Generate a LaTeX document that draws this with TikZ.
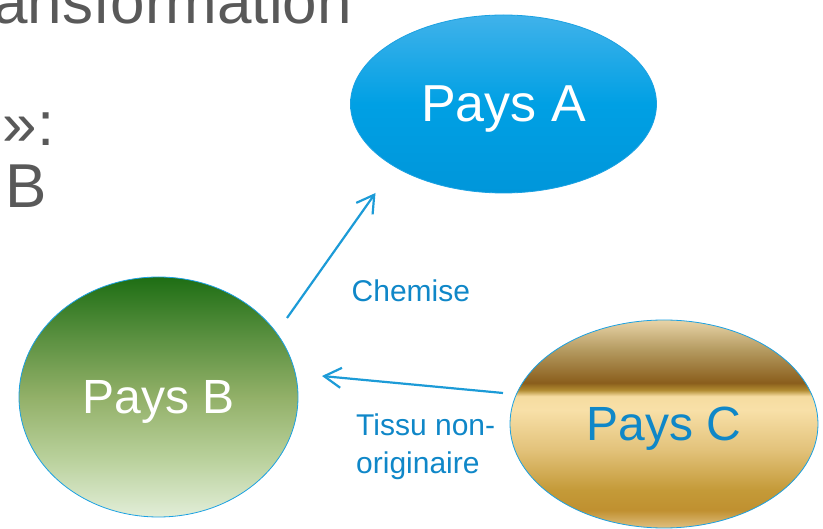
\documentclass[tikz,border=0pt]{standalone}
\usepackage{fontspec}
\setmainfont{Liberation Sans}
\usetikzlibrary{shapes.geometric,arrows.meta}
\definecolor{txtgrey}{HTML}{595959}
\definecolor{arrowblue}{HTML}{1C9BD7}
\definecolor{labelblue}{HTML}{0F87C8}
\definecolor{edgeblue}{HTML}{1BA1E2}
% gold
\definecolor{gA}{HTML}{E0C080}
\definecolor{gB}{HTML}{C09030}
\definecolor{gC}{HTML}{C49A38}
\definecolor{gD}{HTML}{E2C27A}
\definecolor{gE}{HTML}{F8E0A8}
\definecolor{gF}{HTML}{F5DCA0}
\definecolor{gG}{HTML}{B08A30}
\definecolor{gH}{HTML}{8A5E1C}
\definecolor{gI}{HTML}{B49A60}
\definecolor{gJ}{HTML}{E8D4A8}
\pgfdeclareverticalshading{goldsh}{100bp}{color(0bp)=(gA); color(25bp)=(gA); color(29.3bp)=(gB); color(34.1bp)=(gC); color(43.75bp)=(gD); color(53.4bp)=(gE); color(56.7bp)=(gF); color(58.2bp)=(gG); color(59.9bp)=(gH); color(67.8bp)=(gI); color(75bp)=(gJ); color(100bp)=(gJ)}
% green
\definecolor{vA}{HTML}{E2EED8}
\definecolor{vB}{HTML}{B8D09A}
\definecolor{vC}{HTML}{92B068}
\definecolor{vD}{HTML}{5A9040}
\definecolor{vE}{HTML}{1E6E14}
\pgfdeclareverticalshading{greensh}{100bp}{color(0bp)=(vA); color(25bp)=(vA); color(37.5bp)=(vB); color(50bp)=(vC); color(62.5bp)=(vD); color(75bp)=(vE); color(100bp)=(vE)}
% blue
\definecolor{bA}{HTML}{0096DA}
\definecolor{bB}{HTML}{00A0E4}
\definecolor{bC}{HTML}{40B2EA}
\pgfdeclareverticalshading{bluesh}{100bp}{color(0bp)=(bA); color(25bp)=(bA); color(50bp)=(bB); color(75bp)=(bC); color(100bp)=(bC)}
\tikzset{
  pays/.style={ellipse, inner sep=0pt, text depth=0pt, draw=edgeblue, line width=0.8pt},
  bigtxt/.style={text=txtgrey, inner sep=0pt, font=\fontsize{62}{72}\selectfont},
  lbl/.style={text=labelblue, inner sep=0pt, font=\fontsize{30}{38}\selectfont},
  conn/.style={draw=arrowblue, line width=2.2pt, -{Straight Barb[length=17pt,width=20pt]}}
}
\begin{document}
\begin{tikzpicture}[x=1pt,y=-1pt]
\useasboundingbox (0,0) rectangle (823,529);
\clip (0,0) rectangle (823,529);
\node[bigtxt, anchor=base east] (t1) at (352,24) {ansformation};
\node[bigtxt, anchor=base west] (t2) at (2.5,146) {»:};
\node[bigtxt, anchor=base west] (t3) at (5,208) {B};
\node[pays, shading=bluesh, minimum width=306pt, minimum height=178pt, text=white, font=\fontsize{52}{60}\selectfont] (A) at (503.5,104) {Pays A};
\node[pays, shading=greensh, minimum width=279pt, minimum height=240pt, text=white, font=\fontsize{48}{56}\selectfont] (B) at (158.5,397) {Pays B};
\node[pays, shading=goldsh, minimum width=308pt, minimum height=208pt, text=labelblue, font=\fontsize{48}{56}\selectfont] (C) at (664,424) {Pays C};
\coordinate (a1s) at (287,318);
\coordinate (a1e) at (375.5,193);
\coordinate (a2s) at (503,393);
\coordinate (a2e) at (322,376);
\draw[conn] (a1s) -- (a1e);
\draw[conn] (a2s) -- (a2e);
\node[lbl, anchor=base west] (l1) at (351.5,302) {Chemise};
\node[lbl, anchor=base west, align=left] (l2) at (356,474) {Tissu non-\\originaire};
\end{tikzpicture}
\end{document}
